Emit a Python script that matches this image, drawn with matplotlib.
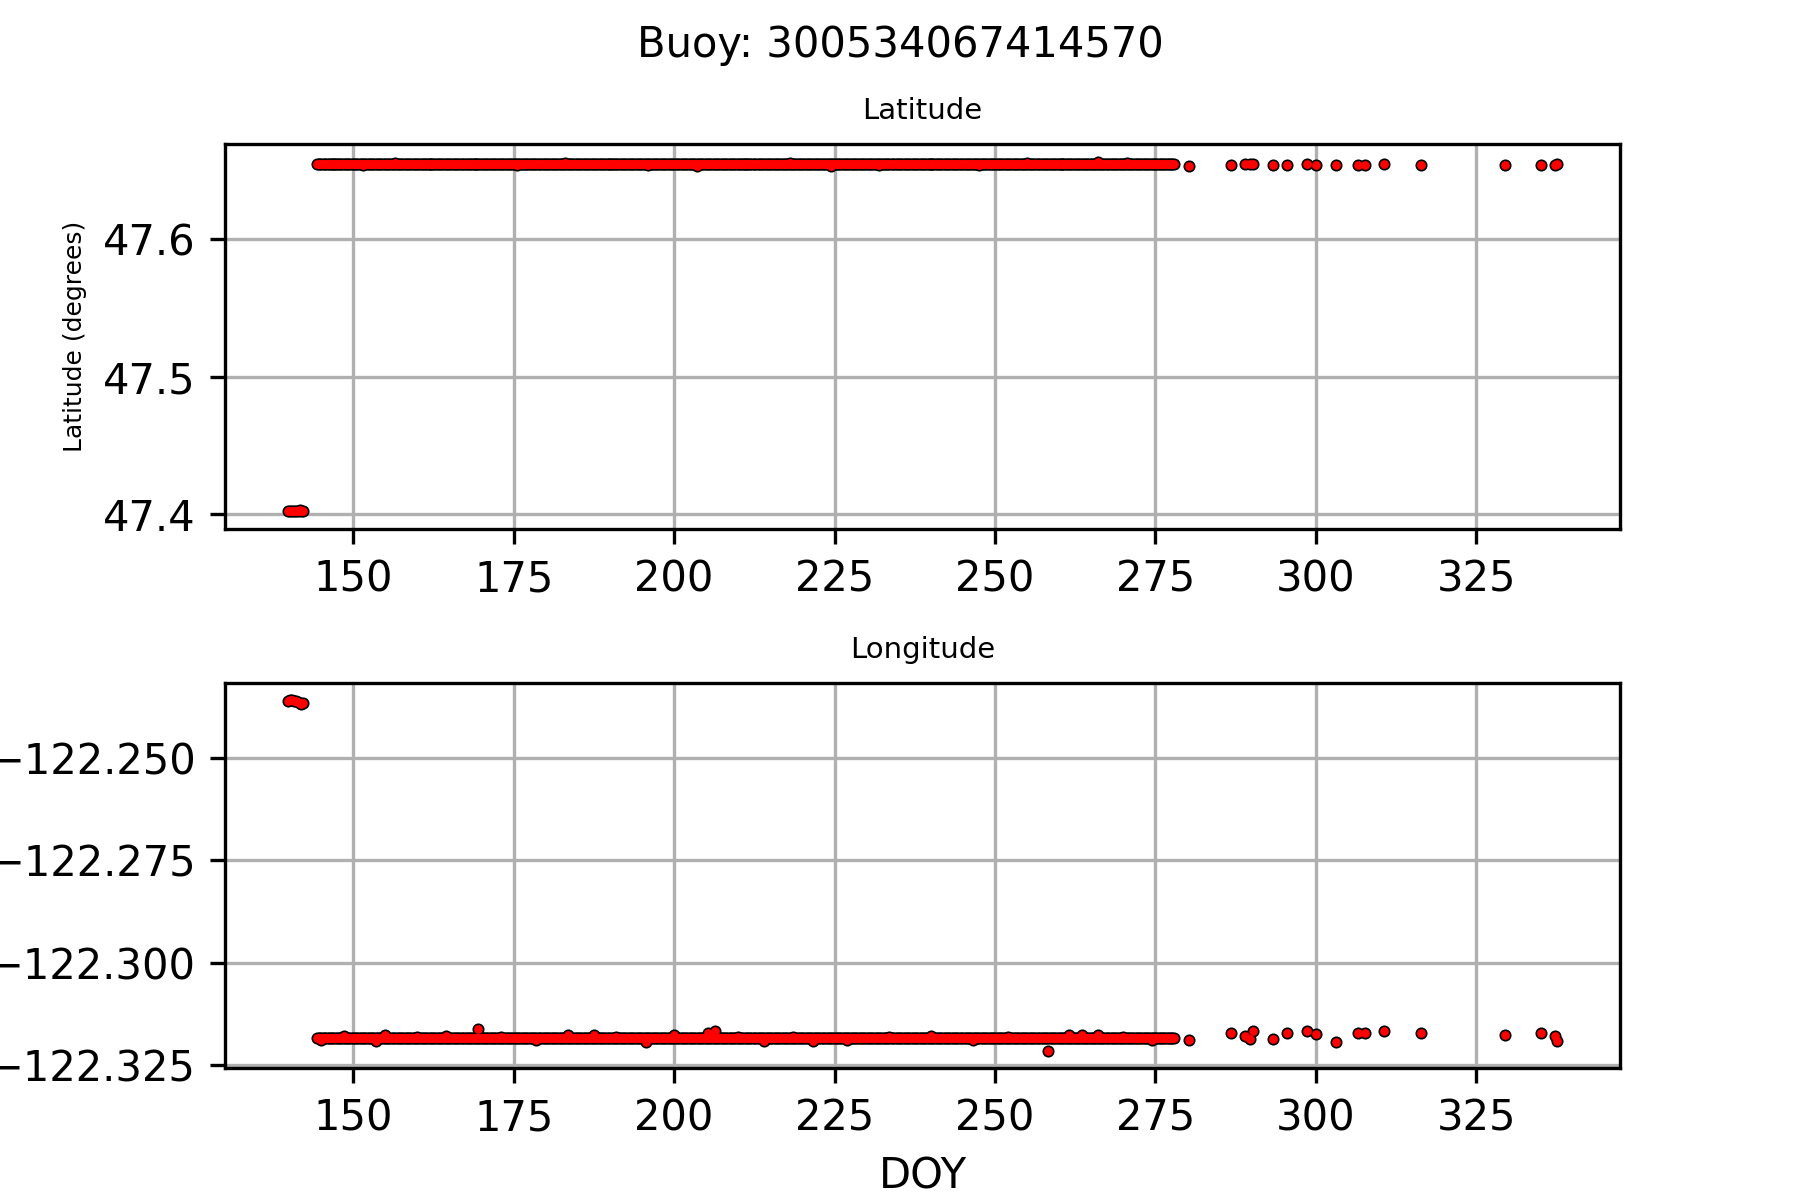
import numpy as np
import matplotlib
matplotlib.use("Agg")
import matplotlib.pyplot as plt

buoy_id = "300534067414570"

# early fixes (before deployment position)
doy_early = [139.9, 140.2, 140.5, 140.8, 141.1, 141.4, 141.7, 141.9, 142.1]
lat_early = [47.4019, 47.4019, 47.4020, 47.4022, 47.4025, 47.4026, 47.4027, 47.4024, 47.4022]
lon_early = [-122.2361, -122.2359, -122.2359, -122.2360, -122.2361, -122.2363, -122.2366, -122.2368, -122.2366]

# regular reports at the mooring (every 6 h), resting position
doy_band = np.arange(144.4, 278.05, 0.25)
lat_rest = 47.6542
lon_rest = -122.3185

# small excursions seen along the band
lat_wig_doy = [147.0, 151.5, 156.5, 162.0, 169.0, 175.5, 183.0, 190.0, 196.0, 203.5,
               211.0, 218.0, 224.5, 232.0, 240.0, 247.5, 255.0, 260.5, 266.0, 270.5]
lat_wig = [47.6548, 47.6537, 47.6549, 47.6547, 47.6548, 47.6537, 47.6549, 47.6547, 47.6535, 47.6533,
           47.6547, 47.6549, 47.6533, 47.6537, 47.6548, 47.6537, 47.6549, 47.6547, 47.6563, 47.6549]

lon_wig_doy = [145.0, 148.5, 153.5, 155.0, 160.0, 164.5, 169.5, 173.0, 178.5, 183.4,
               187.5, 191.0, 195.6, 200.0, 205.3, 206.3, 210.0, 214.0, 218.5, 221.7,
               227.0, 233.5, 240.0, 246.5, 252.0, 258.3, 261.5, 263.5, 266.0, 270.0, 274.5]
lon_wig = [-122.3190, -122.3180, -122.3192, -122.3178, -122.3181, -122.3180, -122.3163, -122.3181,
           -122.3189, -122.3177, -122.3177, -122.3181, -122.3193, -122.3177, -122.3172, -122.3168,
           -122.3181, -122.3192, -122.3181, -122.3192, -122.3189, -122.3181, -122.3180, -122.3189,
           -122.3181, -122.3215, -122.3177, -122.3177, -122.3177, -122.3181, -122.3189]

# sparse reports after day 278
doy_sparse = [280.2, 286.7, 288.9, 289.8, 290.2, 293.3, 295.5, 298.6, 300.0, 303.2,
              306.6, 307.6, 310.6, 316.3, 329.5, 335.1, 337.3, 337.5]
lat_sparse = [47.6530, 47.6540, 47.6543, 47.6542, 47.6542, 47.6535, 47.6540, 47.6545, 47.6540, 47.6540,
              47.6535, 47.6540, 47.6545, 47.6540, 47.6535, 47.6540, 47.6538, 47.6545]
lon_sparse = [-122.3190, -122.3172, -122.3180, -122.3186, -122.3168, -122.3187, -122.3172, -122.3168,
              -122.3174, -122.3194, -122.3172, -122.3171, -122.3168, -122.3172, -122.3177, -122.3172,
              -122.3180, -122.3192]

# combine everything into one series per panel
lat_doy = np.concatenate([doy_early, doy_band, lat_wig_doy, doy_sparse])
lat = np.concatenate([lat_early, np.full(len(doy_band), lat_rest), lat_wig, lat_sparse])
lon_doy = np.concatenate([doy_early, doy_band, lon_wig_doy, doy_sparse])
lon = np.concatenate([lon_early, np.full(len(doy_band), lon_rest), lon_wig, lon_sparse])


def dots(ax, x, y):
    # black layer under red layer -> outlined blob
    ax.plot(x, y, 'o', color='k', markersize=2.9, markeredgewidth=0)
    ax.plot(x, y, 'o', color='red', markersize=2.1, markeredgewidth=0)


fig, (ax1, ax2) = plt.subplots(2, 1, figsize=(6, 4), dpi=300)
fig.subplots_adjust(hspace=0.4)
fig.suptitle(f"Buoy: {buoy_id}", fontsize=10)

dots(ax1, lat_doy, lat)
ax1.set_title("Latitude", fontsize=7)
ax1.set_ylabel("Latitude (degrees)", fontsize=6)
ax1.grid(True)

dots(ax2, lon_doy, lon)
ax2.set_title("Longitude", fontsize=7)
ax2.set_xlabel("DOY")
ax2.grid(True)

fig.savefig("out.png", dpi=300)
